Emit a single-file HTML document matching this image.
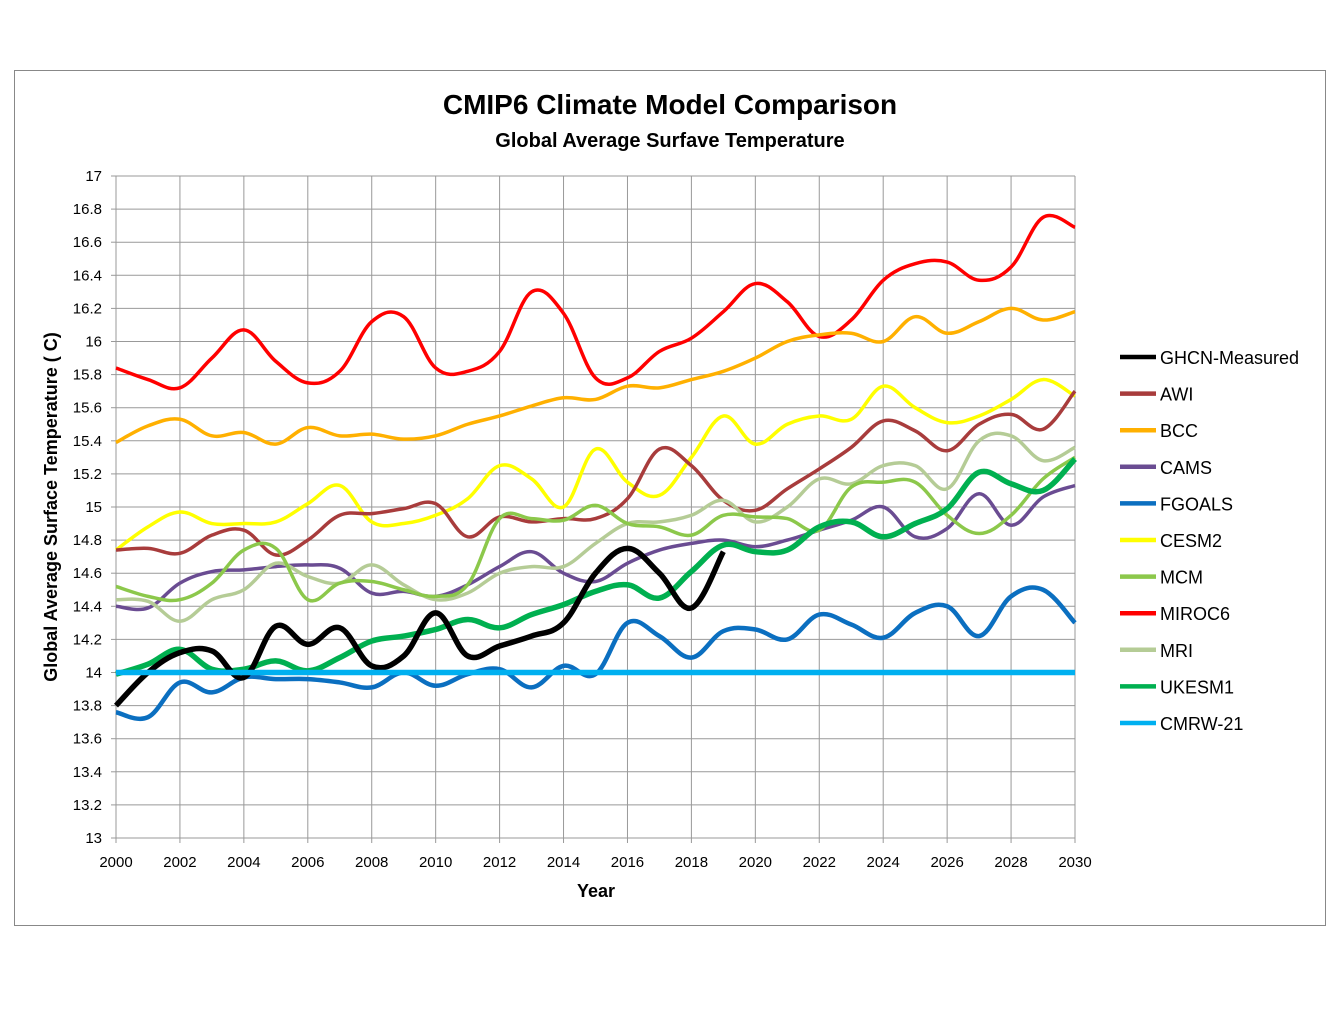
<!DOCTYPE html>
<html><head><meta charset="utf-8"><style>
body{margin:0;background:#fff;}
svg text{font-family:"Liberation Sans",Arial,sans-serif;}
</style></head><body>
<svg id="s" width="1344" height="1008" xmlns="http://www.w3.org/2000/svg">
<rect x="0" y="0" width="1344" height="1008" fill="#fff"/>
<rect x="14.5" y="70.5" width="1311" height="855" fill="#fff" stroke="#888" stroke-width="1"/>
<text x="670" y="114" text-anchor="middle" font-size="28" font-weight="bold">CMIP6 Climate Model Comparison</text>
<text x="670" y="147" text-anchor="middle" font-size="20" font-weight="bold">Global Average Surfave Temperature</text>
<g id="grid"></g>
<g id="series"></g>
<text x="596" y="897" text-anchor="middle" font-size="18" font-weight="bold">Year</text>
<text transform="translate(57,507) rotate(-90)" text-anchor="middle" font-size="18" font-weight="bold">Global Average Surface Temperature ( C)</text>
<g id="legend"></g>
</svg>
<script>
const X0=116,X1=1075,Y0=838,Y1=176;
const xs=y=>X0+(y-2000)*(X1-X0)/30, ys=v=>Y0-(v-13)*(Y0-Y1)/4;
const g=document.getElementById('grid');let h='';
for(let i=0;i<=20;i++){const v=13+i*0.2,y=ys(v);h+=`<line x1="${X0}" x2="${X1}" y1="${y}" y2="${y}" stroke="#999" stroke-width="1"/><line x1="${X0-5}" x2="${X0}" y1="${y}" y2="${y}" stroke="#999"/>`;
h+=`<text x="${X0-14}" y="${y+5}" text-anchor="end" font-size="15">${+v.toFixed(1)}</text>`;}
for(let yr=2000;yr<=2030;yr+=2){const x=xs(yr);h+=`<line x1="${x}" x2="${x}" y1="${Y1}" y2="${Y0+5}" stroke="#999" stroke-width="1"/>`;
h+=`<text x="${x}" y="${Y0+29}" text-anchor="middle" font-size="15">${yr}</text>`;}
g.innerHTML=h;
const D=[
["MIROC6","#ff0000",3,[15.84,15.77,15.72,15.9,16.07,15.88,15.75,15.82,16.12,16.15,15.84,15.82,15.94,16.3,16.17,15.78,15.78,15.94,16.02,16.18,16.35,16.24,16.03,16.13,16.37,16.47,16.48,16.37,16.45,16.75,16.69]],
["BCC","#ffb000",3,[15.39,15.49,15.53,15.43,15.45,15.38,15.48,15.43,15.44,15.41,15.43,15.5,15.55,15.61,15.66,15.65,15.73,15.72,15.77,15.82,15.9,16.0,16.04,16.05,16.0,16.15,16.05,16.12,16.2,16.13,16.18]],
["CESM2","#ffff00",3,[14.74,14.88,14.97,14.9,14.9,14.91,15.02,15.13,14.91,14.9,14.95,15.05,15.25,15.17,15.0,15.35,15.15,15.07,15.3,15.55,15.38,15.5,15.55,15.53,15.73,15.6,15.51,15.55,15.65,15.77,15.67]],
["AWI","#a83c3c",3,[14.74,14.75,14.72,14.83,14.86,14.71,14.8,14.95,14.96,14.99,15.02,14.82,14.94,14.91,14.93,14.93,15.05,15.35,15.25,15.04,14.98,15.11,15.23,15.36,15.52,15.46,15.34,15.5,15.56,15.47,15.7]],
["CAMS","#6a4c92",3,[14.4,14.39,14.54,14.61,14.62,14.64,14.65,14.63,14.48,14.49,14.46,14.53,14.64,14.73,14.6,14.55,14.66,14.74,14.78,14.8,14.76,14.8,14.86,14.92,15.0,14.82,14.87,15.08,14.89,15.06,15.13]],
["MRI","#b5cc96",3,[14.44,14.43,14.31,14.44,14.5,14.66,14.58,14.54,14.65,14.53,14.44,14.48,14.6,14.64,14.64,14.78,14.9,14.91,14.95,15.04,14.91,15.0,15.17,15.14,15.25,15.25,15.11,15.4,15.43,15.28,15.36]],
["MCM","#8cc84b",3,[14.52,14.46,14.44,14.54,14.74,14.75,14.44,14.54,14.55,14.5,14.46,14.53,14.93,14.93,14.92,15.01,14.9,14.88,14.83,14.95,14.94,14.93,14.86,15.12,15.15,15.15,14.95,14.84,14.95,15.17,15.3]],
["FGOALS","#0b6fc0",4,[13.76,13.73,13.94,13.88,13.97,13.96,13.96,13.94,13.91,14.0,13.92,13.99,14.02,13.91,14.04,13.99,14.3,14.22,14.09,14.25,14.26,14.2,14.35,14.29,14.21,14.36,14.4,14.22,14.46,14.5,14.3]],
["UKESM1","#00b050",5,[13.99,14.05,14.14,14.02,14.02,14.07,14.01,14.09,14.19,14.22,14.26,14.32,14.27,14.35,14.41,14.49,14.53,14.45,14.61,14.77,14.73,14.74,14.88,14.91,14.82,14.9,14.99,15.21,15.14,15.1,15.29]],
["GHCN","#000",5,[13.8,14.0,14.12,14.13,13.97,14.28,14.17,14.27,14.04,14.1,14.36,14.1,14.16,14.22,14.3,14.6,14.75,14.6,14.39,14.73]],
["CMRW","#00b0f0",5,Array(31).fill(14)]
];
function path(vals){const p=vals.map((v,i)=>[xs(2000+i),ys(v)]);let d=`M${p[0][0]},${p[0][1]}`;
for(let i=0;i<p.length-1;i++){const a=p[Math.max(i-1,0)],b=p[i],c=p[i+1],e=p[Math.min(i+2,p.length-1)];const t=0.18;
d+=`C${b[0]+(c[0]-a[0])*t},${b[1]+(c[1]-a[1])*t} ${c[0]-(e[0]-b[0])*t},${c[1]-(e[1]-b[1])*t} ${c[0]},${c[1]}`;}return d;}
document.getElementById('series').innerHTML=D.map(s=>`<path d="${path(s[3])}" fill="none" stroke="${s[1]}" stroke-width="${s[2]+0.5}" stroke-linejoin="round"/>`).join('');
const L=[["GHCN-Measured","#000"],["AWI","#a83c3c"],["BCC","#ffb000"],["CAMS","#6a4c92"],["FGOALS","#0b6fc0"],["CESM2","#ffff00"],["MCM","#8cc84b"],["MIROC6","#ff0000"],["MRI","#b5cc96"],["UKESM1","#00b050"],["CMRW-21","#00b0f0"]];
document.getElementById('legend').innerHTML=L.map((l,i)=>{const y=357+i*36.6;return `<line x1="1120" x2="1156" y1="${y}" y2="${y}" stroke="${l[1]}" stroke-width="4.5"/><text x="1160" y="${y+7}" font-size="18">${l[0]}</text>`}).join('');
</script>
</body></html>
